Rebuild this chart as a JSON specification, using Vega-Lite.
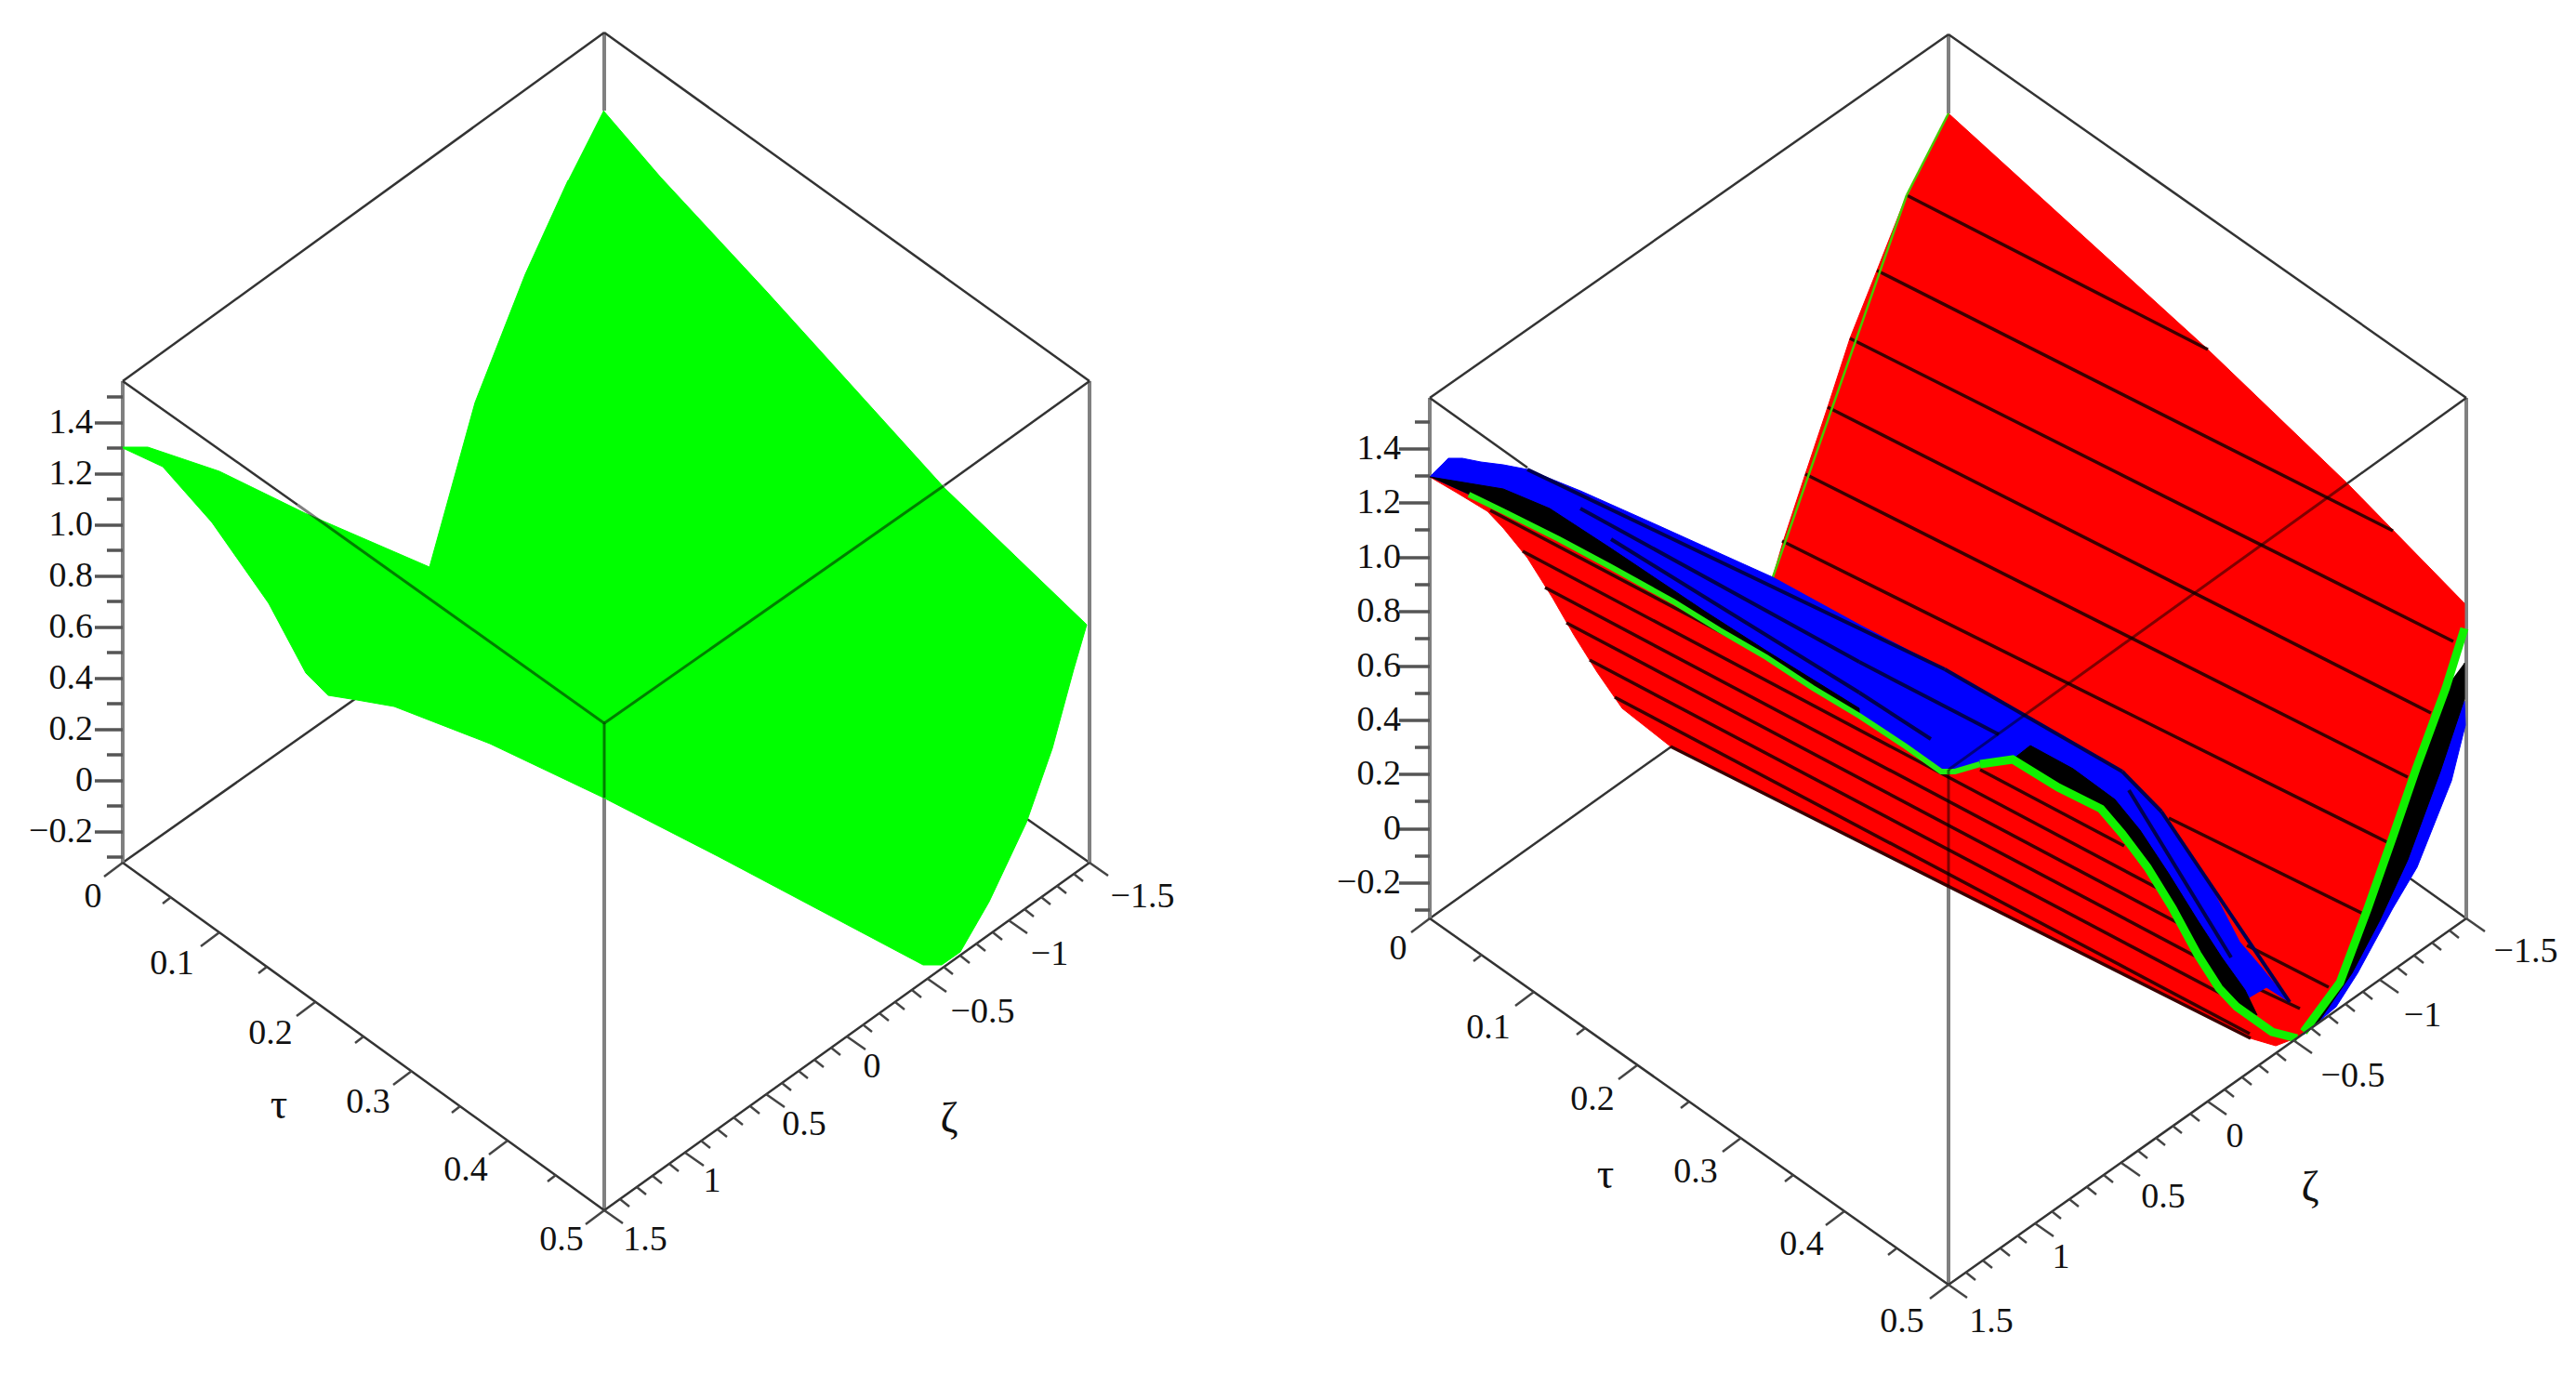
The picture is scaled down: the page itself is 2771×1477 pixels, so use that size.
{"$schema":"https://vega.github.io/schema/vega-lite/v6.json","width":2771,"height":1477,"autosize":{"type":"fit","contains":"padding"},"padding":0,"background":"white","view":{"stroke":null},
"datasets":{
"polys":[
{"p":"G","i":0,"x":649,"y":119},{"p":"G","i":1,"x":710,"y":190},{"p":"G","i":2,"x":825,"y":314},{"p":"G","i":3,"x":1016,"y":525},{"p":"G","i":4,"x":1169,"y":672},{"p":"G","i":5,"x":1155,"y":720},{"p":"G","i":6,"x":1132,"y":805},{"p":"G","i":7,"x":1104,"y":885},{"p":"G","i":8,"x":1064,"y":970},{"p":"G","i":9,"x":1033,"y":1024},{"p":"G","i":10,"x":1013,"y":1038},{"p":"G","i":11,"x":993,"y":1038},{"p":"G","i":12,"x":772,"y":921},{"p":"G","i":13,"x":649,"y":858},{"p":"G","i":14,"x":527,"y":800},{"p":"G","i":15,"x":424,"y":760},{"p":"G","i":16,"x":384,"y":753},{"p":"G","i":17,"x":353,"y":748},{"p":"G","i":18,"x":329,"y":724},{"p":"G","i":19,"x":289,"y":649},{"p":"G","i":20,"x":228,"y":562},{"p":"G","i":21,"x":175,"y":502},{"p":"G","i":22,"x":130,"y":481},{"p":"G","i":23,"x":159,"y":481},{"p":"G","i":24,"x":236,"y":507},{"p":"G","i":25,"x":328,"y":552},{"p":"G","i":26,"x":462,"y":610},{"p":"G","i":27,"x":511,"y":433},{"p":"G","i":28,"x":565,"y":295},{"p":"G","i":29,"x":611,"y":194},
{"p":"R","i":0,"x":2096,"y":122},{"p":"R","i":1,"x":2375,"y":376},{"p":"R","i":2,"x":2525,"y":520},{"p":"R","i":3,"x":2651,"y":649},{"p":"R","i":4,"x":2651,"y":676},{"p":"R","i":5,"x":2631,"y":740},{"p":"R","i":6,"x":2597,"y":827},{"p":"R","i":7,"x":2574,"y":900},{"p":"R","i":8,"x":2547,"y":977},{"p":"R","i":9,"x":2517,"y":1057},{"p":"R","i":10,"x":2474,"y":1115},{"p":"R","i":11,"x":2448,"y":1125},{"p":"R","i":12,"x":2421,"y":1117},{"p":"R","i":13,"x":2096,"y":953},{"p":"R","i":14,"x":2000,"y":905},{"p":"R","i":15,"x":1797,"y":803},{"p":"R","i":16,"x":1745,"y":762},{"p":"R","i":17,"x":1718,"y":723},{"p":"R","i":18,"x":1693,"y":683},{"p":"R","i":19,"x":1670,"y":643},{"p":"R","i":20,"x":1643,"y":600},{"p":"R","i":21,"x":1617,"y":568},{"p":"R","i":22,"x":1600,"y":550},{"p":"R","i":23,"x":1567,"y":530},{"p":"R","i":24,"x":1538,"y":513},{"p":"R","i":25,"x":1907,"y":621},{"p":"R","i":26,"x":1918,"y":583},{"p":"R","i":27,"x":1942,"y":510},{"p":"R","i":28,"x":1966,"y":438},{"p":"R","i":29,"x":1990,"y":364},{"p":"R","i":30,"x":2019,"y":291},{"p":"R","i":31,"x":2051,"y":210},
{"p":"B1","i":0,"x":1538,"y":513},{"p":"B1","i":1,"x":1548,"y":503},{"p":"B1","i":2,"x":1558,"y":493},{"p":"B1","i":3,"x":1573,"y":493},{"p":"B1","i":4,"x":1593,"y":497},{"p":"B1","i":5,"x":1617,"y":500},{"p":"B1","i":6,"x":1643,"y":505},{"p":"B1","i":7,"x":1700,"y":528},{"p":"B1","i":8,"x":1783,"y":565},{"p":"B1","i":9,"x":1867,"y":603},{"p":"B1","i":10,"x":1907,"y":621},{"p":"B1","i":11,"x":2000,"y":672},{"p":"B1","i":12,"x":2092,"y":720},{"p":"B1","i":13,"x":2180,"y":770},{"p":"B1","i":14,"x":2230,"y":800},{"p":"B1","i":15,"x":2283,"y":830},{"p":"B1","i":16,"x":2325,"y":873},{"p":"B1","i":17,"x":2356,"y":920},{"p":"B1","i":18,"x":2383,"y":963},{"p":"B1","i":19,"x":2409,"y":1013},{"p":"B1","i":20,"x":2432,"y":1040},{"p":"B1","i":21,"x":2463,"y":1078},{"p":"B1","i":22,"x":2438,"y":1062},{"p":"B1","i":23,"x":2421,"y":1072},{"p":"B1","i":24,"x":2406,"y":1083},{"p":"B1","i":25,"x":2387,"y":1063},{"p":"B1","i":26,"x":2364,"y":1027},{"p":"B1","i":27,"x":2337,"y":977},{"p":"B1","i":28,"x":2310,"y":933},{"p":"B1","i":29,"x":2283,"y":897},{"p":"B1","i":30,"x":2260,"y":870},{"p":"B1","i":31,"x":2214,"y":847},{"p":"B1","i":32,"x":2165,"y":817},{"p":"B1","i":33,"x":2130,"y":822},{"p":"B1","i":34,"x":2103,"y":830},{"p":"B1","i":35,"x":2088,"y":830},{"p":"B1","i":36,"x":2050,"y":803},{"p":"B1","i":37,"x":2000,"y":770},{"p":"B1","i":38,"x":1950,"y":740},{"p":"B1","i":39,"x":1900,"y":707},{"p":"B1","i":40,"x":1850,"y":678},{"p":"B1","i":41,"x":1800,"y":647},{"p":"B1","i":42,"x":1733,"y":610},{"p":"B1","i":43,"x":1677,"y":580},{"p":"B1","i":44,"x":1617,"y":550},{"p":"B1","i":45,"x":1580,"y":532},
{"p":"B2","i":0,"x":2651,"y":754},{"p":"B2","i":1,"x":2652,"y":780},{"p":"B2","i":2,"x":2637,"y":840},{"p":"B2","i":3,"x":2600,"y":933},{"p":"B2","i":4,"x":2574,"y":977},{"p":"B2","i":5,"x":2536,"y":1047},{"p":"B2","i":6,"x":2513,"y":1083},{"p":"B2","i":7,"x":2478,"y":1113},{"p":"B2","i":8,"x":2517,"y":1057},{"p":"B2","i":9,"x":2547,"y":977},{"p":"B2","i":10,"x":2574,"y":900},{"p":"B2","i":11,"x":2599,"y":827},
{"p":"K1","i":0,"x":1538,"y":513},{"p":"K1","i":1,"x":1617,"y":526},{"p":"K1","i":2,"x":1667,"y":547},{"p":"K1","i":3,"x":1733,"y":590},{"p":"K1","i":4,"x":1833,"y":657},{"p":"K1","i":5,"x":1900,"y":700},{"p":"K1","i":6,"x":2000,"y":762},{"p":"K1","i":7,"x":2000,"y":770},{"p":"K1","i":8,"x":1900,"y":707},{"p":"K1","i":9,"x":1800,"y":647},{"p":"K1","i":10,"x":1733,"y":610},{"p":"K1","i":11,"x":1677,"y":580},{"p":"K1","i":12,"x":1617,"y":550},{"p":"K1","i":13,"x":1580,"y":532},
{"p":"K2","i":0,"x":2165,"y":817},{"p":"K2","i":1,"x":2184,"y":802},{"p":"K2","i":2,"x":2230,"y":827},{"p":"K2","i":3,"x":2275,"y":860},{"p":"K2","i":4,"x":2302,"y":893},{"p":"K2","i":5,"x":2333,"y":940},{"p":"K2","i":6,"x":2364,"y":990},{"p":"K2","i":7,"x":2390,"y":1030},{"p":"K2","i":8,"x":2415,"y":1065},{"p":"K2","i":9,"x":2428,"y":1092},{"p":"K2","i":10,"x":2406,"y":1083},{"p":"K2","i":11,"x":2387,"y":1063},{"p":"K2","i":12,"x":2364,"y":1027},{"p":"K2","i":13,"x":2337,"y":977},{"p":"K2","i":14,"x":2310,"y":933},{"p":"K2","i":15,"x":2283,"y":897},{"p":"K2","i":16,"x":2260,"y":870},{"p":"K2","i":17,"x":2214,"y":847},
{"p":"K3","i":0,"x":2651,"y":713},{"p":"K3","i":1,"x":2651,"y":752},{"p":"K3","i":2,"x":2625,"y":830},{"p":"K3","i":3,"x":2590,"y":925},{"p":"K3","i":4,"x":2560,"y":990},{"p":"K3","i":5,"x":2530,"y":1047},{"p":"K3","i":6,"x":2495,"y":1098},{"p":"K3","i":7,"x":2478,"y":1110},{"p":"K3","i":8,"x":2517,"y":1057},{"p":"K3","i":9,"x":2547,"y":977},{"p":"K3","i":10,"x":2574,"y":900},{"p":"K3","i":11,"x":2599,"y":827},{"p":"K3","i":12,"x":2631,"y":740},
{"p":"E1","i":0,"x":1580,"y":532},{"p":"E1","i":1,"x":1617,"y":550},{"p":"E1","i":2,"x":1677,"y":580},{"p":"E1","i":3,"x":1733,"y":610},{"p":"E1","i":4,"x":1800,"y":647},{"p":"E1","i":5,"x":1850,"y":678},{"p":"E1","i":6,"x":1900,"y":707},{"p":"E1","i":7,"x":1950,"y":740},{"p":"E1","i":8,"x":2000,"y":770},{"p":"E1","i":9,"x":2050,"y":803},{"p":"E1","i":10,"x":2088,"y":830},{"p":"E1","i":11,"x":2103,"y":830},{"p":"E1","i":12,"x":2130,"y":822},
{"p":"E2","i":0,"x":2130,"y":822},{"p":"E2","i":1,"x":2165,"y":817},{"p":"E2","i":2,"x":2214,"y":847},{"p":"E2","i":3,"x":2260,"y":870},{"p":"E2","i":4,"x":2283,"y":897},{"p":"E2","i":5,"x":2310,"y":933},{"p":"E2","i":6,"x":2337,"y":977},{"p":"E2","i":7,"x":2364,"y":1027},{"p":"E2","i":8,"x":2387,"y":1063},{"p":"E2","i":9,"x":2406,"y":1083},{"p":"E2","i":10,"x":2444,"y":1110},{"p":"E2","i":11,"x":2471,"y":1117},
{"p":"E3","i":0,"x":2651,"y":676},{"p":"E3","i":1,"x":2631,"y":740},{"p":"E3","i":2,"x":2599,"y":827},{"p":"E3","i":3,"x":2574,"y":900},{"p":"E3","i":4,"x":2547,"y":977},{"p":"E3","i":5,"x":2517,"y":1057},{"p":"E3","i":6,"x":2478,"y":1110}
],
"segs":[
{"k":"under","x":132,"y":928,"x2":650,"y2":563},{"k":"under","x":1172,"y":928,"x2":650,"y2":563},{"k":"under","x":1538,"y":988,"x2":2096,"y2":591},{"k":"under","x":2653,"y":988,"x2":2096,"y2":591},
{"k":"grey","x":650,"y":35,"x2":650,"y2":119},{"k":"grey","x":2096,"y":37,"x2":2096,"y2":122},
{"k":"grey","x":132,"y":410,"x2":132,"y2":928},{"k":"grey","x":1172,"y":410,"x2":1172,"y2":928},{"k":"grey","x":650,"y":858,"x2":650,"y2":1302},{"k":"grey","x":1538,"y":428,"x2":1538,"y2":988},{"k":"grey","x":2653,"y":428,"x2":2653,"y2":988},{"k":"grey","x":2096,"y":953,"x2":2096,"y2":1382},
{"k":"mesh","x":2051,"y":210,"x2":2375,"y2":376},{"k":"mesh","x":2019,"y":291,"x2":2574,"y2":571},{"k":"mesh","x":1990,"y":364,"x2":2639,"y2":690},{"k":"mesh","x":1966,"y":438,"x2":2615,"y2":767},{"k":"mesh","x":1942,"y":510,"x2":2590,"y2":836},{"k":"mesh","x":1917,"y":582,"x2":2570,"y2":907},{"k":"mesh","x":2333,"y":880,"x2":2542,"y2":983},{"k":"mesh","x":2417,"y":1017,"x2":2505,"y2":1062},{"k":"mesh","x":2417,"y":1058,"x2":2474,"y2":1085},
{"k":"mesh","x":1737,"y":750,"x2":2420,"y2":1112},{"k":"mesh","x":1710,"y":710,"x2":2395,"y2":1072},{"k":"mesh","x":1685,"y":670,"x2":2368,"y2":1032},{"k":"mesh","x":1662,"y":632,"x2":2345,"y2":994},{"k":"mesh","x":1638,"y":593,"x2":2320,"y2":955},{"k":"mesh","x":1603,"y":549,"x2":1900,"y2":706},{"k":"mesh","x":2130,"y":828,"x2":2285,"y2":910},{"k":"mesh","x":1797,"y":803,"x2":2421,"y2":1117},
{"k":"navy","x":1643,"y":505,"x2":2092,"y2":720},{"k":"navy","x":2092,"y":720,"x2":2283,"y2":830},{"k":"navy","x":1700,"y":547,"x2":2000,"y2":712},{"k":"navy","x":2000,"y":712,"x2":2150,"y2":790},{"k":"navy","x":1733,"y":580,"x2":2000,"y2":745},{"k":"navy","x":2000,"y":745,"x2":2077,"y2":795},{"k":"navy","x":2283,"y":830,"x2":2325,"y2":873},{"k":"navy","x":2325,"y":873,"x2":2463,"y2":1078},{"k":"navy","x":2290,"y":850,"x2":2400,"y2":1030},
{"k":"wing","x":1907,"y":621,"x2":2051,"y2":210},{"k":"wing","x":2051,"y":210,"x2":2096,"y2":122},
{"k":"semi","x":320,"y":543,"x2":650,"y2":778},{"k":"semi","x":1016,"y":522,"x2":650,"y2":778},{"k":"semi","x":650,"y":778,"x2":650,"y2":858},{"k":"semi","x":2525,"y":520,"x2":2096,"y2":828},{"k":"semi","x":2096,"y":828,"x2":2096,"y2":953},
{"k":"solid","x":132,"y":410,"x2":650,"y2":35},{"k":"solid","x":650,"y":35,"x2":1172,"y2":410},{"k":"solid","x":132,"y":410,"x2":320,"y2":543},{"k":"solid","x":1172,"y":410,"x2":1016,"y2":522},{"k":"solid","x":132,"y":928,"x2":650,"y2":1302},{"k":"solid","x":650,"y":1302,"x2":1172,"y2":928},
{"k":"solid","x":1538,"y":428,"x2":2096,"y2":37},{"k":"solid","x":2096,"y":37,"x2":2653,"y2":428},{"k":"solid","x":1538,"y":428,"x2":1643,"y2":503},{"k":"solid","x":2653,"y":428,"x2":2525,"y2":520},{"k":"solid","x":1538,"y":988,"x2":2096,"y2":1382},{"k":"solid","x":2096,"y":1382,"x2":2653,"y2":988},
{"k":"ztick","x":102,"y":895,"x2":132,"y2":895},{"k":"ztick","x":102,"y":840,"x2":132,"y2":840},{"k":"ztick","x":102,"y":785,"x2":132,"y2":785},{"k":"ztick","x":102,"y":730,"x2":132,"y2":730},{"k":"ztick","x":102,"y":675,"x2":132,"y2":675},{"k":"ztick","x":102,"y":620,"x2":132,"y2":620},{"k":"ztick","x":102,"y":565,"x2":132,"y2":565},{"k":"ztick","x":102,"y":510,"x2":132,"y2":510},{"k":"ztick","x":102,"y":455,"x2":132,"y2":455},
{"k":"ztick","x":115,"y":922,"x2":132,"y2":922},{"k":"ztick","x":115,"y":867,"x2":132,"y2":867},{"k":"ztick","x":115,"y":812,"x2":132,"y2":812},{"k":"ztick","x":115,"y":757,"x2":132,"y2":757},{"k":"ztick","x":115,"y":702,"x2":132,"y2":702},{"k":"ztick","x":115,"y":647,"x2":132,"y2":647},{"k":"ztick","x":115,"y":592,"x2":132,"y2":592},{"k":"ztick","x":115,"y":537,"x2":132,"y2":537},{"k":"ztick","x":115,"y":482,"x2":132,"y2":482},{"k":"ztick","x":115,"y":427,"x2":132,"y2":427},
{"k":"ztick","x":1505,"y":950,"x2":1538,"y2":950},{"k":"ztick","x":1505,"y":892,"x2":1538,"y2":892},{"k":"ztick","x":1505,"y":833,"x2":1538,"y2":833},{"k":"ztick","x":1505,"y":775,"x2":1538,"y2":775},{"k":"ztick","x":1505,"y":717,"x2":1538,"y2":717},{"k":"ztick","x":1505,"y":658,"x2":1538,"y2":658},{"k":"ztick","x":1505,"y":600,"x2":1538,"y2":600},{"k":"ztick","x":1505,"y":541,"x2":1538,"y2":541},{"k":"ztick","x":1505,"y":483,"x2":1538,"y2":483},
{"k":"ztick","x":1522,"y":979,"x2":1538,"y2":979},{"k":"ztick","x":1522,"y":921,"x2":1538,"y2":921},{"k":"ztick","x":1522,"y":862,"x2":1538,"y2":862},{"k":"ztick","x":1522,"y":804,"x2":1538,"y2":804},{"k":"ztick","x":1522,"y":746,"x2":1538,"y2":746},{"k":"ztick","x":1522,"y":687,"x2":1538,"y2":687},{"k":"ztick","x":1522,"y":629,"x2":1538,"y2":629},{"k":"ztick","x":1522,"y":570,"x2":1538,"y2":570},{"k":"ztick","x":1522,"y":512,"x2":1538,"y2":512},{"k":"ztick","x":1522,"y":454,"x2":1538,"y2":454},
{"k":"tick","x":132,"y":928,"x2":112,"y2":943},{"k":"tick","x":184,"y":965,"x2":175,"y2":972},{"k":"tick","x":236,"y":1003,"x2":216,"y2":1018},{"k":"tick","x":287,"y":1040,"x2":278,"y2":1047},{"k":"tick","x":339,"y":1078,"x2":319,"y2":1093},{"k":"tick","x":391,"y":1115,"x2":382,"y2":1122},{"k":"tick","x":443,"y":1152,"x2":423,"y2":1167},{"k":"tick","x":495,"y":1190,"x2":486,"y2":1197},{"k":"tick","x":546,"y":1227,"x2":526,"y2":1242},{"k":"tick","x":598,"y":1264,"x2":589,"y2":1271},{"k":"tick","x":650,"y":1302,"x2":630,"y2":1317},
{"k":"tick","x":1538,"y":988,"x2":1518,"y2":1003},{"k":"tick","x":1594,"y":1027,"x2":1585,"y2":1034},{"k":"tick","x":1650,"y":1067,"x2":1630,"y2":1082},{"k":"tick","x":1705,"y":1106,"x2":1696,"y2":1113},{"k":"tick","x":1761,"y":1146,"x2":1741,"y2":1161},{"k":"tick","x":1817,"y":1185,"x2":1808,"y2":1192},{"k":"tick","x":1873,"y":1224,"x2":1853,"y2":1239},{"k":"tick","x":1929,"y":1264,"x2":1920,"y2":1271},{"k":"tick","x":1984,"y":1303,"x2":1964,"y2":1318},{"k":"tick","x":2040,"y":1343,"x2":2031,"y2":1350},{"k":"tick","x":2096,"y":1382,"x2":2076,"y2":1397},
{"k":"tick","x":650,"y":1302,"x2":670,"y2":1316},{"k":"tick","x":667,"y":1290,"x2":677,"y2":1298},{"k":"tick","x":685,"y":1277,"x2":695,"y2":1285},{"k":"tick","x":702,"y":1265,"x2":712,"y2":1273},{"k":"tick","x":720,"y":1252,"x2":730,"y2":1260},{"k":"tick","x":737,"y":1240,"x2":757,"y2":1254},{"k":"tick","x":754,"y":1227,"x2":764,"y2":1235},{"k":"tick","x":772,"y":1215,"x2":782,"y2":1223},{"k":"tick","x":789,"y":1202,"x2":799,"y2":1210},{"k":"tick","x":807,"y":1190,"x2":817,"y2":1198},{"k":"tick","x":824,"y":1177,"x2":844,"y2":1191},{"k":"tick","x":841,"y":1165,"x2":851,"y2":1173},{"k":"tick","x":859,"y":1152,"x2":869,"y2":1160},{"k":"tick","x":876,"y":1140,"x2":886,"y2":1148},{"k":"tick","x":894,"y":1127,"x2":904,"y2":1135},{"k":"tick","x":911,"y":1115,"x2":931,"y2":1129},{"k":"tick","x":928,"y":1102,"x2":938,"y2":1110},{"k":"tick","x":946,"y":1090,"x2":956,"y2":1098},{"k":"tick","x":963,"y":1078,"x2":973,"y2":1086},{"k":"tick","x":981,"y":1065,"x2":991,"y2":1073},{"k":"tick","x":998,"y":1053,"x2":1018,"y2":1067},{"k":"tick","x":1015,"y":1040,"x2":1025,"y2":1048},{"k":"tick","x":1033,"y":1028,"x2":1043,"y2":1036},{"k":"tick","x":1050,"y":1015,"x2":1060,"y2":1023},{"k":"tick","x":1068,"y":1003,"x2":1078,"y2":1011},{"k":"tick","x":1085,"y":990,"x2":1105,"y2":1004},{"k":"tick","x":1102,"y":978,"x2":1112,"y2":986},{"k":"tick","x":1120,"y":965,"x2":1130,"y2":973},{"k":"tick","x":1137,"y":953,"x2":1147,"y2":961},{"k":"tick","x":1155,"y":940,"x2":1165,"y2":948},{"k":"tick","x":1172,"y":928,"x2":1192,"y2":942},
{"k":"tick","x":2096,"y":1382,"x2":2116,"y2":1396},{"k":"tick","x":2115,"y":1369,"x2":2125,"y2":1377},{"k":"tick","x":2133,"y":1356,"x2":2143,"y2":1364},{"k":"tick","x":2152,"y":1343,"x2":2162,"y2":1351},{"k":"tick","x":2170,"y":1329,"x2":2180,"y2":1337},{"k":"tick","x":2189,"y":1316,"x2":2209,"y2":1330},{"k":"tick","x":2207,"y":1303,"x2":2217,"y2":1311},{"k":"tick","x":2226,"y":1290,"x2":2236,"y2":1298},{"k":"tick","x":2245,"y":1277,"x2":2255,"y2":1285},{"k":"tick","x":2263,"y":1264,"x2":2273,"y2":1272},{"k":"tick","x":2282,"y":1251,"x2":2302,"y2":1265},{"k":"tick","x":2300,"y":1238,"x2":2310,"y2":1246},{"k":"tick","x":2319,"y":1224,"x2":2329,"y2":1232},{"k":"tick","x":2337,"y":1211,"x2":2347,"y2":1219},{"k":"tick","x":2356,"y":1198,"x2":2366,"y2":1206},{"k":"tick","x":2375,"y":1185,"x2":2395,"y2":1199},{"k":"tick","x":2393,"y":1172,"x2":2403,"y2":1180},{"k":"tick","x":2412,"y":1159,"x2":2422,"y2":1167},{"k":"tick","x":2430,"y":1146,"x2":2440,"y2":1154},{"k":"tick","x":2449,"y":1133,"x2":2459,"y2":1141},{"k":"tick","x":2467,"y":1119,"x2":2487,"y2":1133},{"k":"tick","x":2486,"y":1106,"x2":2496,"y2":1114},{"k":"tick","x":2505,"y":1093,"x2":2515,"y2":1101},{"k":"tick","x":2523,"y":1080,"x2":2533,"y2":1088},{"k":"tick","x":2542,"y":1067,"x2":2552,"y2":1075},{"k":"tick","x":2560,"y":1054,"x2":2580,"y2":1068},{"k":"tick","x":2579,"y":1041,"x2":2589,"y2":1049},{"k":"tick","x":2597,"y":1028,"x2":2607,"y2":1036},{"k":"tick","x":2616,"y":1014,"x2":2626,"y2":1022},{"k":"tick","x":2635,"y":1001,"x2":2645,"y2":1009},{"k":"tick","x":2653,"y":988,"x2":2673,"y2":1002}
],
"labels":[
{"r":"z","t":"1.4","x":100,"y":455},{"r":"z","t":"1.2","x":100,"y":510},{"r":"z","t":"1.0","x":100,"y":565},{"r":"z","t":"0.8","x":100,"y":620},{"r":"z","t":"0.6","x":100,"y":675},{"r":"z","t":"0.4","x":100,"y":730},{"r":"z","t":"0.2","x":100,"y":785},{"r":"z","t":"0","x":100,"y":840},{"r":"z","t":"−0.2","x":100,"y":895},
{"r":"z","t":"1.4","x":1507,"y":483},{"r":"z","t":"1.2","x":1507,"y":541},{"r":"z","t":"1.0","x":1507,"y":600},{"r":"z","t":"0.8","x":1507,"y":658},{"r":"z","t":"0.6","x":1507,"y":717},{"r":"z","t":"0.4","x":1507,"y":775},{"r":"z","t":"0.2","x":1507,"y":833},{"r":"z","t":"0","x":1507,"y":892},{"r":"z","t":"−0.2","x":1507,"y":950},
{"r":"o","t":"0","x":100,"y":965},{"r":"o","t":"0.1","x":185,"y":1037},{"r":"o","t":"0.2","x":291,"y":1112},{"r":"o","t":"0.3","x":396,"y":1186},{"r":"o","t":"0.4","x":501,"y":1259},{"r":"o","t":"0.5","x":604,"y":1334},{"r":"g","t":"τ","x":300,"y":1189},{"r":"g","t":"ζ","x":1021,"y":1204},{"r":"o","t":"1.5","x":694,"y":1334},{"r":"o","t":"1","x":766,"y":1271},{"r":"o","t":"0.5","x":865,"y":1210},{"r":"o","t":"0","x":938,"y":1148},{"r":"o","t":"−0.5","x":1057,"y":1089},{"r":"o","t":"−1","x":1129,"y":1027},{"r":"o","t":"−1.5","x":1229,"y":965},
{"r":"o","t":"0","x":1504,"y":1021},{"r":"o","t":"0.1","x":1601,"y":1106},{"r":"o","t":"0.2","x":1713,"y":1183},{"r":"o","t":"0.3","x":1824,"y":1261},{"r":"o","t":"0.4","x":1938,"y":1339},{"r":"o","t":"0.5","x":2046,"y":1422},{"r":"g","t":"τ","x":1727,"y":1264},{"r":"g","t":"ζ","x":2485,"y":1278},{"r":"o","t":"1.5","x":2142,"y":1422},{"r":"o","t":"1","x":2217,"y":1353},{"r":"o","t":"0.5","x":2327,"y":1288},{"r":"o","t":"0","x":2404,"y":1223},{"r":"o","t":"−0.5","x":2531,"y":1158},{"r":"o","t":"−1","x":2606,"y":1093},{"r":"o","t":"−1.5","x":2717,"y":1024}
]},
"data":{"name":"segs"},
"encoding":{"x":{"field":"x","type":"quantitative","axis":null,"scale":{"domain":[0,2771],"nice":false,"zero":false}},"y":{"field":"y","type":"quantitative","axis":null,"scale":{"domain":[1477,0],"nice":false,"zero":false}}},
"layer":[
{"transform":[{"filter":"datum.k==='under'"}],"mark":{"type":"rule","stroke":"#333333","strokeWidth":2.5},"encoding":{"x2":{"field":"x2"},"y2":{"field":"y2"}}},
{"transform":[{"filter":"datum.k==='grey'"}],"mark":{"type":"rule","stroke":"#808080","strokeWidth":4},"encoding":{"x2":{"field":"x2"},"y2":{"field":"y2"}}},
{"data":{"name":"polys"},"transform":[{"filter":"datum.p==='G'"}],"mark":{"type":"line","fill":"#00ff00","stroke":"#00ff00","strokeWidth":1},"encoding":{"order":{"field":"i"},"detail":{"field":"p"}}},
{"data":{"name":"polys"},"transform":[{"filter":"datum.p==='R'"}],"mark":{"type":"line","fill":"#ff0000","stroke":"#ff0000","strokeWidth":1},"encoding":{"order":{"field":"i"},"detail":{"field":"p"}}},
{"transform":[{"filter":"datum.k==='mesh'"}],"mark":{"type":"rule","stroke":"#3a0000","strokeWidth":3.5},"encoding":{"x2":{"field":"x2"},"y2":{"field":"y2"}}},
{"transform":[{"filter":"datum.k==='wing'"}],"mark":{"type":"rule","stroke":"#44cc00","strokeWidth":2.5},"encoding":{"x2":{"field":"x2"},"y2":{"field":"y2"}}},
{"data":{"name":"polys"},"transform":[{"filter":"datum.p==='B1'||datum.p==='B2'"}],"mark":{"type":"line","fill":"#0000ff","stroke":"#0000ff","strokeWidth":1},"encoding":{"order":{"field":"i"},"detail":{"field":"p"}}},
{"transform":[{"filter":"datum.k==='navy'"}],"mark":{"type":"rule","stroke":"#000050","strokeWidth":4},"encoding":{"x2":{"field":"x2"},"y2":{"field":"y2"}}},
{"data":{"name":"polys"},"transform":[{"filter":"datum.p==='K1'||datum.p==='K2'||datum.p==='K3'"}],"mark":{"type":"line","fill":"#000000","stroke":"#000000","strokeWidth":1},"encoding":{"order":{"field":"i"},"detail":{"field":"p"}}},
{"data":{"name":"polys"},"transform":[{"filter":"datum.p==='E1'"}],"mark":{"type":"line","stroke":"#22ee11","strokeWidth":6},"encoding":{"order":{"field":"i"},"detail":{"field":"p"}}},
{"data":{"name":"polys"},"transform":[{"filter":"datum.p==='E2'||datum.p==='E3'"}],"mark":{"type":"line","stroke":"#11f000","strokeWidth":9},"encoding":{"order":{"field":"i"},"detail":{"field":"p"}}},
{"transform":[{"filter":"datum.k==='semi'"}],"mark":{"type":"rule","stroke":"#000000","strokeWidth":3,"opacity":0.5},"encoding":{"x2":{"field":"x2"},"y2":{"field":"y2"}}},
{"transform":[{"filter":"datum.k==='solid'"}],"mark":{"type":"rule","stroke":"#333333","strokeWidth":2.5},"encoding":{"x2":{"field":"x2"},"y2":{"field":"y2"}}},
{"transform":[{"filter":"datum.k==='tick'"}],"mark":{"type":"rule","stroke":"#444444","strokeWidth":2.5},"encoding":{"x2":{"field":"x2"},"y2":{"field":"y2"}}},
{"transform":[{"filter":"datum.k==='ztick'"}],"mark":{"type":"rule","stroke":"#555555","strokeWidth":3.5},"encoding":{"x2":{"field":"x2"},"y2":{"field":"y2"}}},
{"data":{"name":"labels"},"transform":[{"filter":"datum.r==='z'"}],"mark":{"type":"text","font":"Liberation Serif","fontSize":38,"align":"right","baseline":"middle","color":"#111111"},"encoding":{"text":{"field":"t"}}},
{"data":{"name":"labels"},"transform":[{"filter":"datum.r==='o'"}],"mark":{"type":"text","font":"Liberation Serif","fontSize":38,"align":"center","baseline":"middle","color":"#111111"},"encoding":{"text":{"field":"t"}}},
{"data":{"name":"labels"},"transform":[{"filter":"datum.r==='g'"}],"mark":{"type":"text","font":"Liberation Serif","fontSize":46,"align":"center","baseline":"middle","color":"#111111"},"encoding":{"text":{"field":"t"}}}
]}
